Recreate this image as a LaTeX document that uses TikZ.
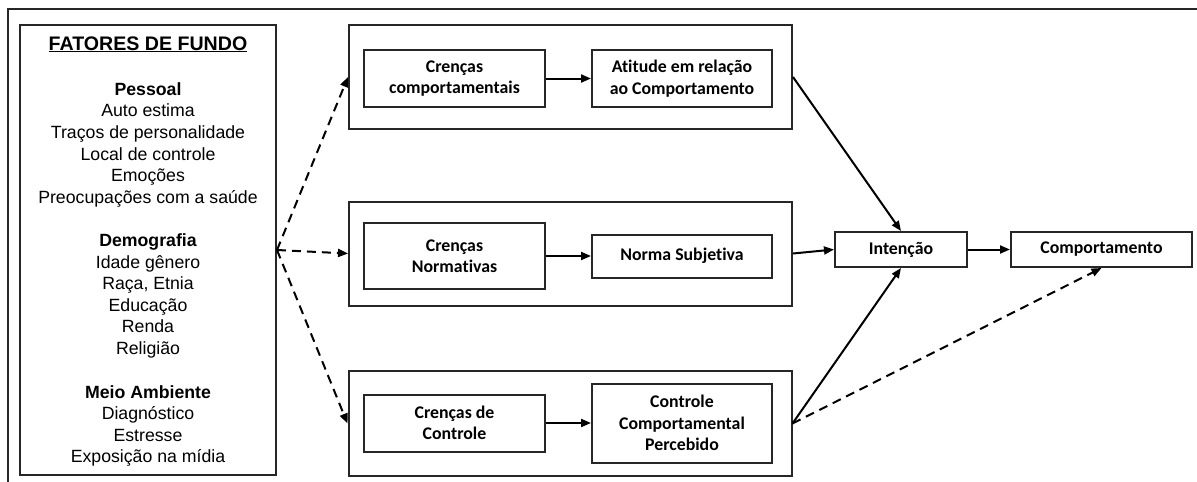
\documentclass[tikz,border=0pt]{standalone}
\usepackage{fontspec}
\setmainfont{Liberation Sans}
\newfontfamily\calibri[Ligatures={NoCommon,NoRare}]{Carlito}
\usetikzlibrary{arrows.meta}

\begin{document}
\begin{tikzpicture}[x=1pt, y=-1pt,
    caixa/.style={draw=black!85, line width=2pt, inner sep=0pt, align=center,
      font=\calibri\bfseries\fontsize{17.8}{21.5}\selectfont},
    grupo/.style={draw=black!85, line width=2pt, minimum width=443pt,
      minimum height=104pt, inner sep=0pt},
    seta/.style={line width=2pt, -{Triangle[length=10pt,width=8pt]}},
    tracejada/.style={seta, dash pattern=on 9pt off 6pt},
    itemtxt/.style={anchor=base, inner sep=0pt, font=\fontsize{17.7}{21.6}\selectfont},
    titulotxt/.style={anchor=base, inner sep=0pt, font=\bfseries\fontsize{17.7}{21.6}\selectfont}]
  \useasboundingbox (0,0) rectangle (1197,482);

  % moldura (so topo e esquerda)
  \draw[line width=2pt, black!85] (8,482) -- (8,9) -- (1197,9);

  % fatores de fundo
  \node[grupo, minimum width=256pt, minimum height=450pt] (fundo) at (148,250) {};
  \node[titulotxt, font=\bfseries\fontsize{19.6}{24}\selectfont] (titulo) at (148,50)
    {\underline{FATORES DE FUNDO}};

  \node[titulotxt] (pessoal) at (148,95.3) {Pessoal};
  \foreach \txt [count=\i] in {Auto estima, Traços de personalidade, Local de controle,
      Emoções, Preocupações com a saúde}
    \node[itemtxt] (pessoal\i) at (148,95.3+21.6*\i) {\txt};

  \node[titulotxt] (demografia) at (148,246.5) {Demografia};
  \foreach \txt [count=\i] in {Idade gênero, {Raça, Etnia}, Educação, Renda, Religião}
    \node[itemtxt] (demografia\i) at (148,246.5+21.6*\i) {\txt};

  \node[titulotxt] (meio) at (148,398) {Meio Ambiente};
  \foreach \txt [count=\i] in {Diagnóstico, Estresse, Exposição na mídia}
    \node[itemtxt] (meio\i) at (148,398+21.6*\i) {\txt};

  % grupo das atitudes
  \node[grupo] (grupoA) at (570.5,77) {};
  \node[caixa, minimum width=181pt, minimum height=57pt] (crencasComp) at (454.5,78.5)
    {Crenças\\comportamentais};
  \node[caixa, minimum width=180pt, minimum height=57pt] (atitude) at (682,78.5)
    {Atitude em relação\\ao Comportamento};
  \draw[seta] (crencasComp) -- (atitude);

  % grupo das normas
  \node[grupo] (grupoB) at (570.5,253.5) {};
  \node[caixa, minimum width=181pt, minimum height=66pt] (crencasNorm) at (454.5,256)
    {Crenças\\Normativas};
  \node[caixa, minimum width=180pt, minimum height=43pt] (norma) at (682,256)
    {Norma Subjetiva};
  \draw[seta] (crencasNorm) -- (norma);

  % grupo do controle
  \node[grupo, minimum height=105pt] (grupoC) at (570,423.5) {};
  \node[caixa, minimum width=181pt, minimum height=57pt] (crencasCtrl) at (454.5,423)
    {Crenças de\\Controle};
  \node[caixa, minimum width=180pt, minimum height=79pt] (controle) at (682,423)
    {Controle\\Comportamental\\Percebido};
  \draw[seta] (crencasCtrl) -- (controle);

  % intencao e comportamento
  \node[caixa, minimum width=132pt, minimum height=35pt] (intencao) at (901,249.5) {Intenção};
  \node[caixa, minimum width=181pt, minimum height=35pt] (comportamento) at (1101.5,249.5)
    {Comportamento};

  % setas tracejadas dos fatores
  \draw[tracejada] (fundo.east) -- (grupoA.west);
  \draw[tracejada] (fundo.east) -- (grupoB.west);
  \draw[tracejada] (fundo.east) -- (grupoC.west);

  \draw[seta] (grupoA.east) -- (intencao.north);
  \draw[seta] (grupoB.east) -- (intencao.west);
  \draw[seta] (grupoC.east) -- (intencao.south);
  \draw[tracejada] (grupoC.east) -- (comportamento.south);
  \draw[seta] (intencao) -- (comportamento);
\end{tikzpicture}
\end{document}
